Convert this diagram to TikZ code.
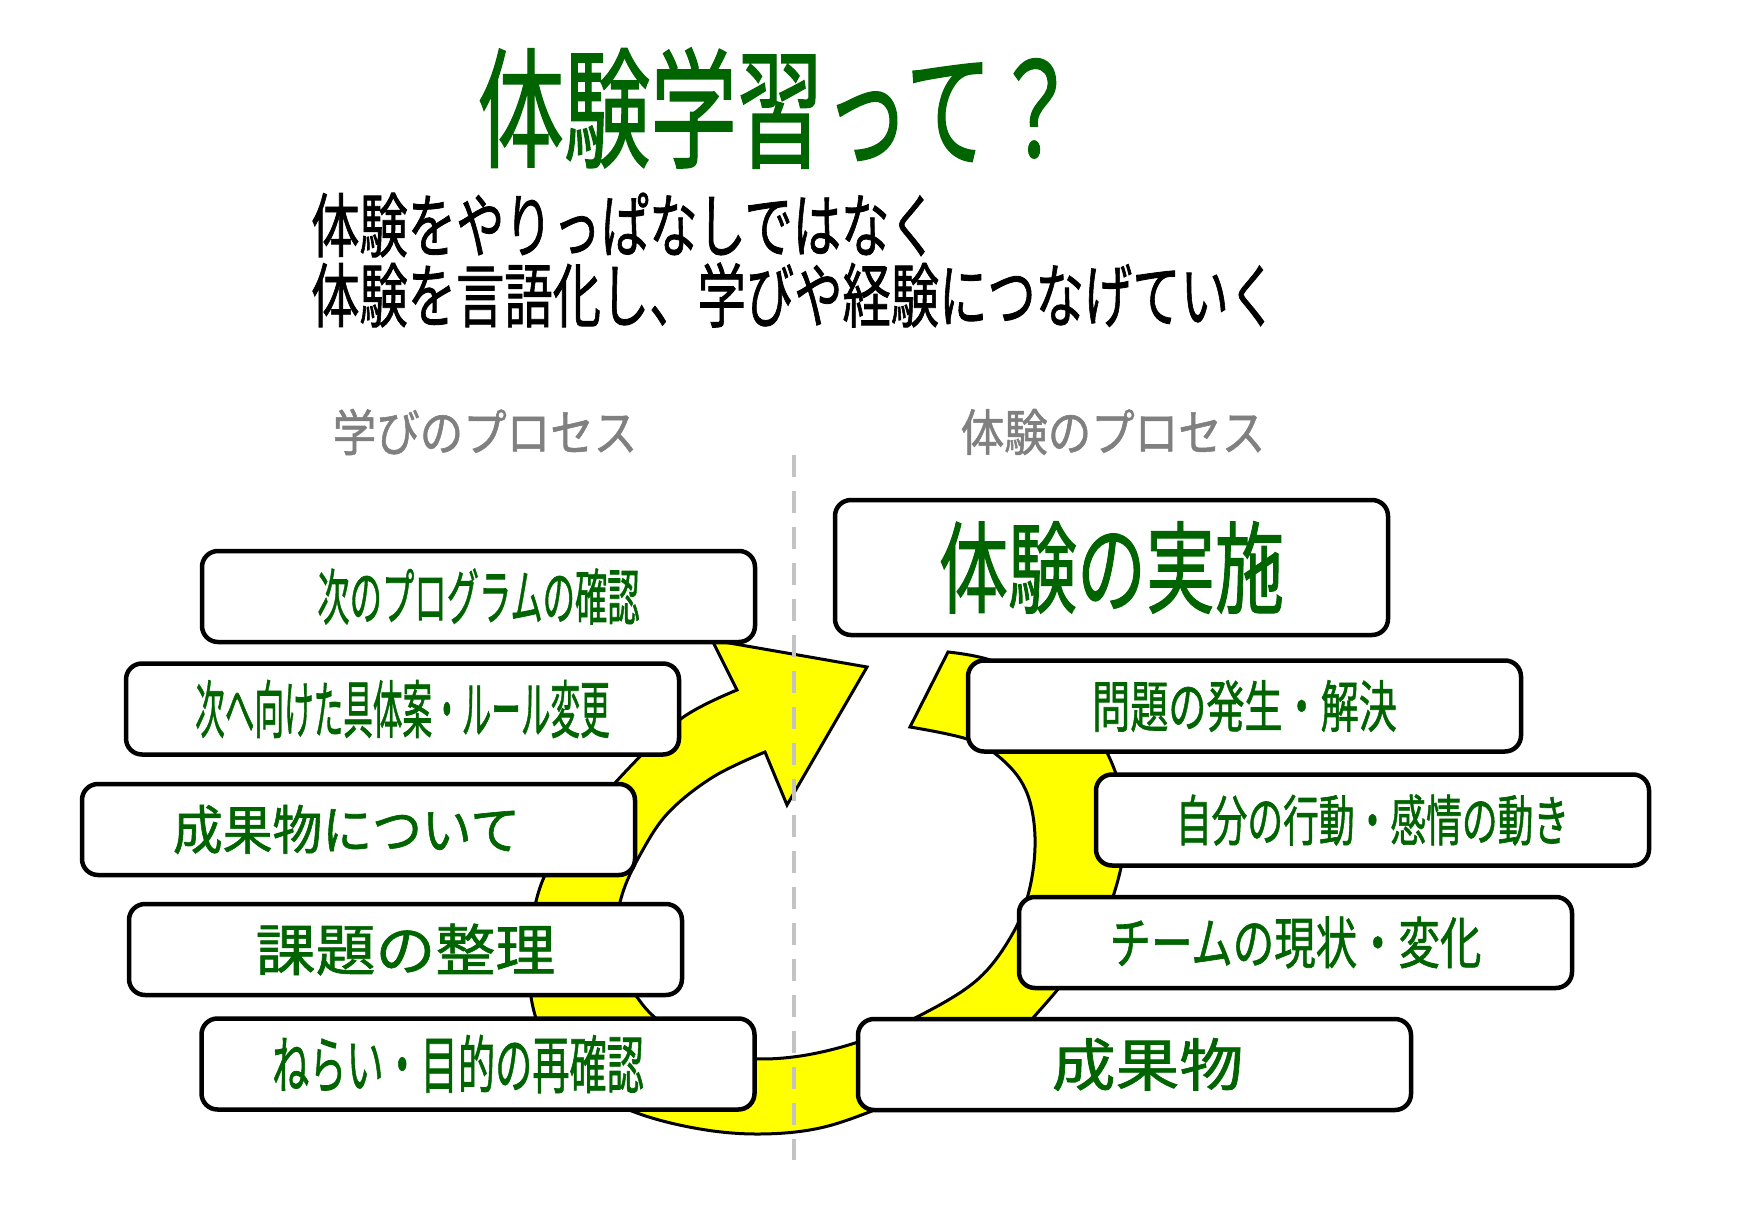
\documentclass[tikz,border=0pt]{standalone}
\usepackage{fontspec}
\usepackage{graphicx}
\newfontfamily\jp{Noto Sans CJK JP}[FakeBold=1.2]
\definecolor{tgreen}{RGB}{0,100,0}
\definecolor{lgray}{RGB}{128,128,128}
\definecolor{dgray}{RGB}{195,195,195}
\definecolor{ylw}{RGB}{255,255,0}
\newcommand\jt[3]{\fontsize{#1pt}{#1pt}\selectfont\scalebox{#2}[1]{#3}}
\begin{document}
\begin{tikzpicture}[x=1pt,y=-1pt,
  pbox/.style={draw=black, line width=4.5pt, rounded corners=16pt, fill=white,
    minimum width=553pt, minimum height=91pt, inner sep=0pt, text=tgreen, font=\jp},
  plain/.style={inner sep=0pt, font=\jp},
  ring/.style={fill=ylw, draw=black, line width=3pt, line join=miter},
  divider/.style={dgray, line width=4pt, dash pattern=on 22pt off 14pt}
]
\useasboundingbox (0,0) rectangle (1741,1230);
\fill[white] (0,0) rectangle (1741,1230);

% title and subtitle
\node[plain, text=tgreen] (title) at (778,108) {\jt{130}{0.665}{体験学習って？}};
\node[plain, anchor=west, text=black] (sub1) at (311,225) {\jt{70}{0.69}{体験をやりっぱなしではなく}};
\node[plain, anchor=west, text=black] (sub2) at (311,295) {\jt{70}{0.69}{体験を言語化し、学びや経験につなげていく}};

% process labels
\node[plain, text=lgray] (lmanabi) at (485,432) {\jt{50}{0.87}{学びのプロセス}};
\node[plain, text=lgray] (ltaiken) at (1113,432) {\jt{50}{0.87}{体験のプロセス}};

% yellow circular arrow
\filldraw[ring] (867,667) -- (712,640) -- (737,690)
  -- plot[smooth, tension=0.6] coordinates {(737,690) (682,718) (627,770) (580,825) (545,875) (531,930) (530,990) (545,1040) (580,1085) (637,1113) (700,1129) (760,1134) (820,1128) (880,1108) (940,1083) (1000,1050) (1040,1010) (1080,960) (1110,905) (1125,840) (1118,780) (1090,725) (1045,685) (990,660) (948,652)}
  -- (910,727)
  -- plot[smooth, tension=0.6] coordinates {(910,727) (970,740) (1005,762) (1027,793) (1035,837) (1030,887) (1013,933) (977,980) (917,1017) (855,1043) (793,1057) (740,1057) (690,1040) (650,1013) (625,975) (616,935) (622,895) (640,855) (668,813) (713,777) (765,752)}
  -- (787,805) -- cycle;

% divider
\coordinate (dtop) at (794,455);
\coordinate (dbot) at (794,1160);
\draw[divider] (dtop) -- (dbot);

% left boxes
\node[pbox] (b1) at (478.5,596.5) {\jt{61}{0.53}{次のプログラムの確認}};
\node[pbox] (b2) at (402.5,709) {\jt{63}{0.47}{次へ向けた具体案・ルール変更}};
\node[pbox] (b3) at (358.5,829.5) {\hspace*{-24pt}\jt{53}{0.94}{成果物について}};
\node[pbox] (b4) at (405.5,949.5) {\jt{56}{1.07}{課題の整理}};
\node[pbox] (b5) at (478,1064) {\hspace*{-40pt}\jt{63}{0.59}{ねらい・目的の再確認}};

% right boxes
\node[pbox, minimum height=135pt] (ba) at (1111.5,567.5) {\jt{100}{0.69}{体験の実施}};
\node[pbox] (bb) at (1244.5,706) {\jt{56}{0.68}{問題の発生・解決}};
\node[pbox] (bc) at (1372.5,820) {\jt{55}{0.65}{自分の行動・感情の動き}};
\node[pbox] (bd) at (1295.5,942.5) {\jt{56}{0.74}{チームの現状・変化}};
\node[pbox] (be) at (1134.5,1064.5) {\hspace*{26pt}\jt{57}{1.12}{成果物}};
\end{tikzpicture}
\end{document}
